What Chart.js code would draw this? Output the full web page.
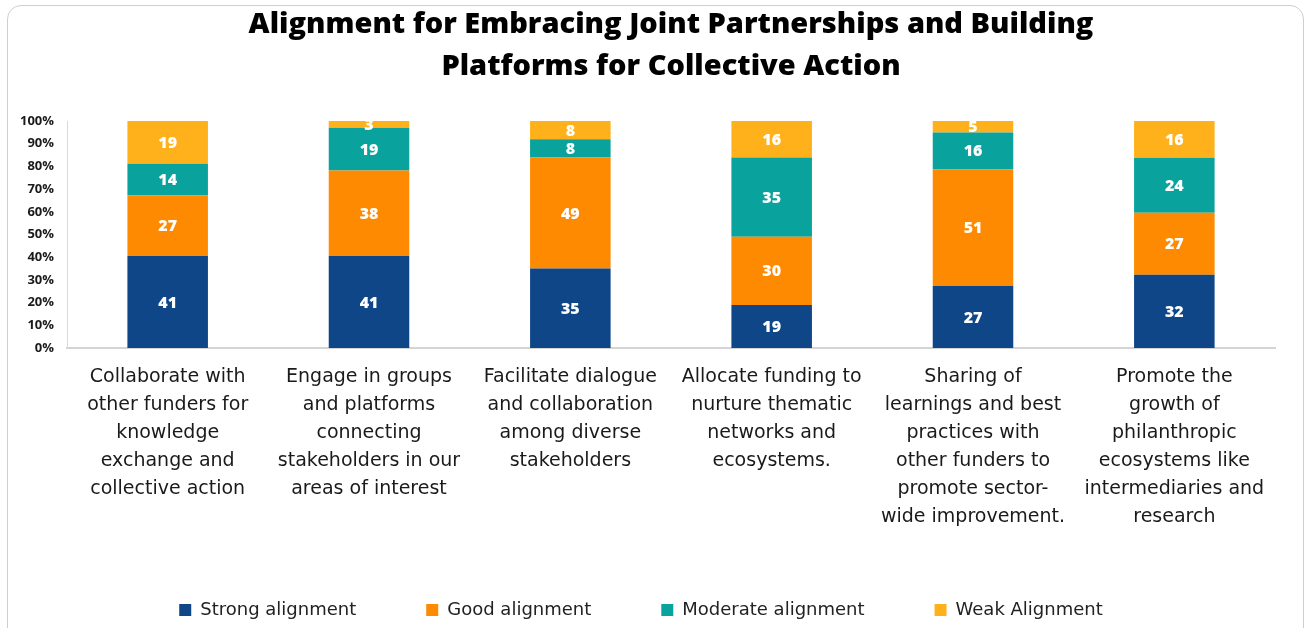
<!DOCTYPE html>
<html>
<head>
<meta charset="utf-8">
<script src="https://cdn.jsdelivr.net/npm/chart.js@4.4.1/dist/chart.umd.min.js"></script>
<style>
  html, body { margin: 0; padding: 0; background: #ffffff; }
  body { width: 1305px; height: 628px; overflow: hidden; position: relative; }
  #frame {
    position: absolute; left: 7px; top: 5px; width: 1297px; height: 640px;
    border: 1.5px solid #cfcfcf; border-radius: 14px; box-sizing: border-box;
  }
  #wrap { position: absolute; left: 0; top: 0; width: 1305px; height: 628px; }
</style>
</head>
<body>
<div id="frame"></div>
<div id="wrap"><canvas id="chart" width="1305" height="628"></canvas></div>
<script>
// Categories (multi-line labels, as shown under each bar)
const categories = [
  ["Collaborate with", "other funders for", "knowledge", "exchange and", "collective action"],
  ["Engage in groups", "and platforms", "connecting", "stakeholders in our", "areas of interest"],
  ["Facilitate dialogue", "and collaboration", "among diverse", "stakeholders"],
  ["Allocate funding to", "nurture thematic", "networks and", "ecosystems."],
  ["Sharing of", "learnings and best", "practices with", "other funders to", "promote sector-", "wide improvement."],
  ["Promote the", "growth of", "philanthropic", "ecosystems like", "intermediaries and", "research"]
];

// Reported values per alignment level
const strongAlignment   = [41, 41, 35, 19, 27, 32];
const goodAlignment     = [27, 38, 49, 30, 51, 27];
const moderateAlignment = [14, 19, 8, 35, 16, 24];
const weakAlignment     = [19, 3, 8, 16, 5, 16];

const yTicks = [0, 10, 20, 30, 40, 50, 60, 70, 80, 90, 100];

const seriesNames  = ["Strong alignment", "Good alignment", "Moderate alignment", "Weak Alignment"];
const seriesColors = ["#0e4687", "#fd8a00", "#0aa29d", "#ffb11b"];
const seriesValues = [strongAlignment, goodAlignment, moderateAlignment, weakAlignment];

// Each bar is scaled to 100% of its own total
const totals = categories.map((_, i) => seriesValues.reduce((s, arr) => s + arr[i], 0));

const FONT = "'DejaVu Sans', 'Noto Sans', sans-serif";
const TITLE_FONT = "'Open Sans', 'Noto Sans', sans-serif";

const datasets = seriesValues.map((vals, k) => ({
  label: seriesNames[k],
  data: vals.map((v, i) => v / totals[i] * 100),
  raw: vals,
  backgroundColor: seriesColors[k],
  borderWidth: 0,
  barPercentage: 0.8,
  categoryPercentage: 0.5
}));

// White value labels centred in each segment
const segmentLabels = {
  id: 'segmentLabels',
  afterDatasetsDraw(chart) {
    const ctx = chart.ctx;
    ctx.save();
    ctx.fillStyle = '#ffffff';
    ctx.font = "800 16px " + TITLE_FONT;
    ctx.textAlign = 'center';
    ctx.textBaseline = 'middle';
    chart.data.datasets.forEach((ds, di) => {
      const meta = chart.getDatasetMeta(di);
      meta.data.forEach((bar, i) => {
        const cy = (bar.y + bar.base) / 2;
        ctx.fillText(String(ds.raw[i]), bar.x, cy + 1);
      });
    });
    ctx.restore();
  }
};

// Legend: wide gaps between entries, compact block height
const LEGEND_GAP = 70;
const LEGEND_HEIGHT = 97;
const compactLegend = {
  id: 'compactLegend',
  beforeLayout(chart) {
    const lg = chart.legend;
    if (lg && !lg._compact) {
      const fit = lg.fit.bind(lg);
      lg.fit = function () { fit(); this.height = LEGEND_HEIGHT; };
      lg._compact = true;
    }
  }
};

new Chart(document.getElementById('chart'), {
  type: 'bar',
  data: { labels: categories, datasets },
  options: {
    responsive: false,
    animation: false,
    layout: { padding: { left: 7, right: 30, top: 4, bottom: 0 } },
    plugins: {
      title: {
        display: true,
        text: ["Alignment for Embracing Joint Partnerships and Building", "Platforms for Collective Action"],
        color: '#000000',
        font: { family: TITLE_FONT, size: 29, weight: '800', lineHeight: 1.45 },
        padding: { top: 0, bottom: 33 },
        fullSize: false
      },
      legend: {
        position: 'bottom',
        labels: {
          color: '#222222',
          font: { family: FONT, size: 18 },
          boxWidth: 12,
          boxHeight: 12,
          padding: LEGEND_GAP
        }
      },
      tooltip: { enabled: false }
    },
    scales: {
      x: {
        stacked: true,
        grid: { display: false, drawTicks: false },
        border: { display: true, color: '#d4d4d4', width: 2 },
        afterFit(axis) { axis.height = 183; },
        ticks: {
          color: '#1a1a1a',
          font: { family: FONT, size: 19, lineHeight: 28 / 19 },
          maxRotation: 0,
          minRotation: 0,
          autoSkip: false,
          padding: 15
        }
      },
      y: {
        stacked: true,
        min: 0,
        max: 100,
        afterBuildTicks(axis) { axis.ticks = yTicks.map(v => ({ value: v })); },
        grid: { display: false, drawTicks: false },
        border: { display: true, color: '#d9d9d9', width: 1 },
        ticks: {
          color: '#1a1a1a',
          font: { family: TITLE_FONT, size: 13, weight: 'bold' },
          padding: 13,
          callback: v => v + '%'
        }
      }
    }
  },
  plugins: [segmentLabels, compactLegend]
});
</script>
</body>
</html>
